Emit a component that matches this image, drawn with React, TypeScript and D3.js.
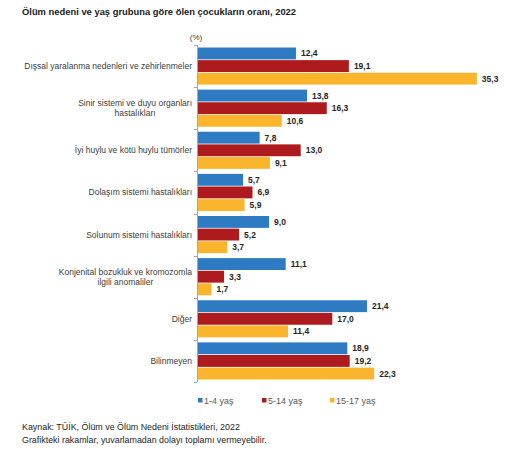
import React, { useEffect, useRef } from 'react'
import * as d3 from 'd3'

const categories = [
  'Dışsal yaralanma nedenleri ve zehirlenmeler',
  'Sinir sistemi ve duyu organları\nhastalıkları',
  'İyi huylu ve kötü huylu tümörler',
  'Dolaşım sistemi hastalıkları',
  'Solunum sistemi hastalıkları',
  'Konjenital bozukluk ve kromozomla\nilgili anomaliler',
  'Diğer',
  'Bilinmeyen',
]
const age1to4 = [12.4, 13.8, 7.8, 5.7, 9.0, 11.1, 21.4, 18.9]
const age5to14 = [19.1, 16.3, 13.0, 6.9, 5.2, 3.3, 17.0, 19.2]
const age15to17 = [35.3, 10.6, 9.1, 5.9, 3.7, 1.7, 11.4, 22.3]
const seriesNames = ['1-4 yaş', '5-14 yaş', '15-17 yaş']
const seriesColors = ['#2e7bc4', '#ae1b1e', '#fbb52c']

const title = 'Ölüm nedeni ve yaş grubuna göre ölen çocukların oranı, 2022'
const notes = [
  'Kaynak: TÜİK, Ölüm ve Ölüm Nedeni İstatistikleri, 2022',
  'Grafikteki rakamlar, yuvarlamadan dolayı toplamı vermeyebilir.',
]

const W = 514
const H = 450
const FONT = 'Arial, "Liberation Sans", sans-serif'

const App: React.FC = () => {
  const svgRef = useRef<SVGSVGElement>(null)

  useEffect(() => {
    if (!svgRef.current) return
    const svg = d3.select(svgRef.current)
    svg.selectAll('*').remove()

    const series = [age1to4, age5to14, age15to17]
    const x = d3.scaleLinear().domain([0, 40]).range([198, 198 + 316])
    const y = d3.scaleBand<number>().domain(d3.range(categories.length)).range([45, 382]).padding(0)
    const sub = d3
      .scaleBand<number>()
      .domain([0, 1, 2])
      .range([2.5, y.bandwidth() - 2.5])
      .paddingInner(0.06)

    // title
    svg.append('text')
      .attr('x', 22).attr('y', 15)
      .style('font-family', FONT).style('font-size', '9.4px').style('font-weight', 'bold')
      .style('fill', '#1a1a1a')
      .text(title)

    svg.append('text')
      .attr('x', 196).attr('y', 40)
      .attr('text-anchor', 'middle')
      .style('font-family', FONT).style('font-size', '8px').style('fill', '#404040')
      .text('(%)')

    // bars
    series.forEach((vals, si) => {
      const g = svg.append('g')
      g.selectAll('rect')
        .data(vals)
        .enter()
        .append('rect')
        .attr('x', x(0))
        .attr('y', (_d, i) => (y(i) ?? 0) + (sub(si) ?? 0))
        .attr('width', d => x(d) - x(0))
        .attr('height', sub.bandwidth())
        .attr('fill', seriesColors[si])

      g.selectAll('text')
        .data(vals)
        .enter()
        .append('text')
        .attr('x', d => x(d) + 5)
        .attr('y', (_d, i) => (y(i) ?? 0) + (sub(si) ?? 0) + sub.bandwidth() / 2)
        .attr('dominant-baseline', 'central')
        .style('font-family', FONT).style('font-size', '8.5px').style('font-weight', 'bold')
        .style('fill', '#262626')
        .text(d => d.toFixed(1).replace('.', ','))
    })

    // axis line + ticks
    const axis = svg.append('g').attr('stroke', '#a6a6a6').attr('stroke-width', 1)
    axis.append('line')
      .attr('x1', x(0) - 0.5).attr('x2', x(0) - 0.5)
      .attr('y1', y.range()[0]).attr('y2', y.range()[1])
    d3.range(categories.length + 1).forEach(i => {
      const ty = Math.round(y.range()[0] + i * y.step()) + 0.5
      axis.append('line')
        .attr('x1', x(0) - 4).attr('x2', x(0) - 0.5)
        .attr('y1', ty).attr('y2', ty)
    })

    // category labels: block right-aligned, lines centred within block
    categories.forEach((c, i) => {
      const lines = c.split('\n')
      const cy = (y(i) ?? 0) + y.bandwidth() / 2
      const right = x(0) - 6
      const lh = 10
      const tg = svg.append('g')
      const texts = lines.map((ln, li) =>
        tg.append('text')
          .attr('y', cy + (li - (lines.length - 1) / 2) * lh)
          .attr('dominant-baseline', 'central')
          .attr('text-anchor', 'middle')
          .style('font-family', FONT).style('font-size', '8.5px').style('fill', '#404040')
          .text(ln),
      )
      const widths = texts.map(t => (t.node() as SVGTextElement).getComputedTextLength())
      const maxW = d3.max(widths) ?? 0
      texts.forEach(t => t.attr('x', right - maxW / 2))
    })

    // legend
    const legendX = [198, 262, 330]
    seriesNames.forEach((n, i) => {
      svg.append('rect')
        .attr('x', legendX[i]).attr('y', 398)
        .attr('width', 4.5).attr('height', 4.5)
        .attr('fill', seriesColors[i])
      svg.append('text')
        .attr('x', legendX[i] + 6).attr('y', 400.5)
        .attr('dominant-baseline', 'central')
        .style('font-family', FONT).style('font-size', '9px').style('fill', '#595959')
        .text(n)
    })

    // notes
    notes.forEach((n, i) => {
      svg.append('text')
        .attr('x', 22).attr('y', 430 + i * 13)
        .style('font-family', FONT).style('font-size', '8.9px').style('fill', '#262626')
        .text(n)
    })
  }, [])

  return (
    <svg
      ref={svgRef}
      width={W}
      height={H}
      style={{ position: 'absolute', left: 0, top: 0, background: '#fff' }}
    />
  )
}

export default App
